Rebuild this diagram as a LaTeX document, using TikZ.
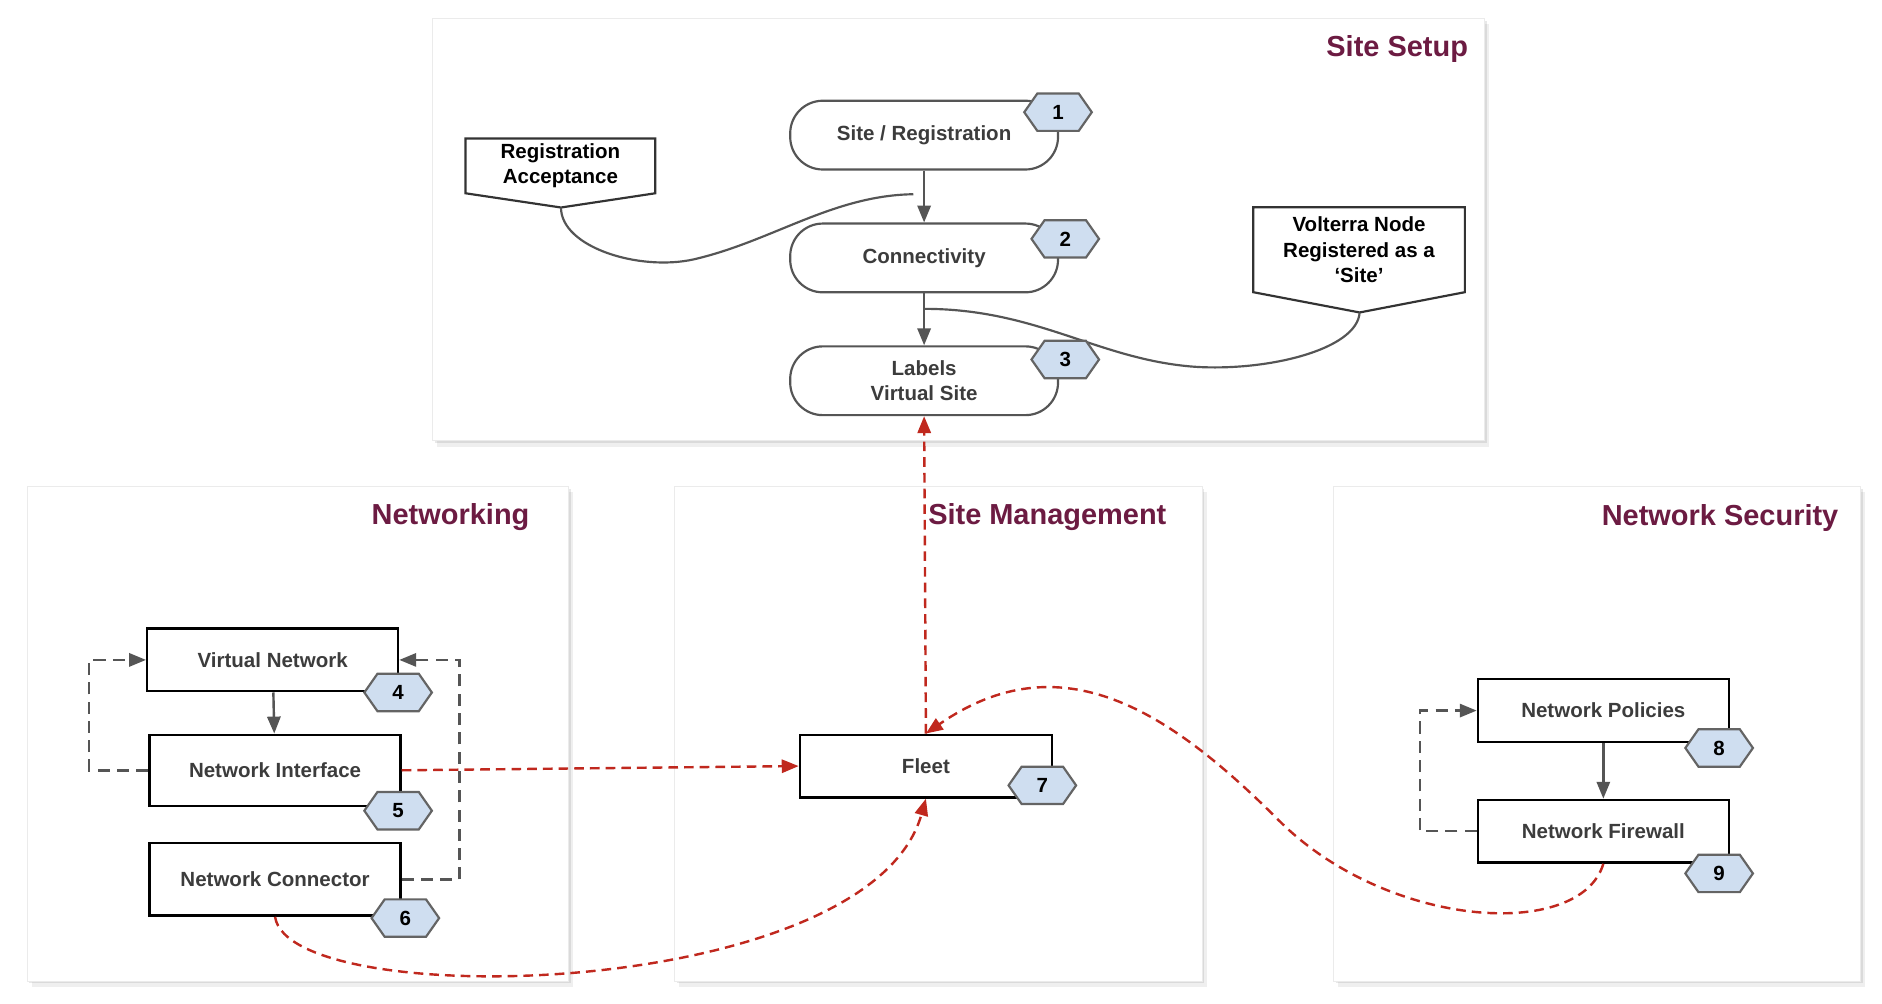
\documentclass[tikz,border=0pt]{standalone}
\usepackage{fontspec}
\setmainfont{Liberation Sans}
\usetikzlibrary{arrows.meta, positioning, shapes.symbols, shadows}

\definecolor{titlered}{RGB}{108,27,66}
\definecolor{nodegray}{RGB}{60,60,60}
\definecolor{badgeblue}{RGB}{207,222,240}
\definecolor{badgeedge}{RGB}{100,100,100}
\definecolor{arrowgray}{RGB}{85,85,85}
\definecolor{linkred}{RGB}{192,40,30}
\newcommand\nodefont{\fontsize{17}{21}\selectfont\bfseries}

\begin{document}
\begin{tikzpicture}[x=1pt, y=-1pt,
            panel/.style={
                rectangle,
                draw=black!8,
                fill=white,
                anchor=north west,
                inner sep=0pt,
                drop shadow={shadow xshift=4pt, shadow yshift=-5pt, opacity=.12},
                drop shadow={shadow xshift=2pt, shadow yshift=-2pt, opacity=.18}
            },
            paneltitle/.style={
                anchor=east,
                inner sep=0pt,
                text=titlered,
                font=\fontsize{24}{28}\selectfont\bfseries
            },
            stage/.style={
                rectangle,
                draw=arrowgray,
                line width=1.8pt,
                rounded corners=27pt,
                fill=white,
                minimum width=222pt,
                minimum height=57pt,
                align=center,
                text=nodegray,
                font=\nodefont
            },
            item/.style={
                rectangle,
                draw=black,
                line width=2pt,
                fill=white,
                minimum width=208pt,
                minimum height=52pt,
                align=center,
                text=nodegray,
                font=\nodefont
            },
            badge/.style={
                signal,
                signal to=west and east,
                signal pointer angle=110,
                draw=badgeedge,
                line width=1.8pt,
                fill=badgeblue,
                minimum width=56pt,
                minimum height=31pt,
                inner sep=0pt,
                font=\nodefont
            },
            note/.style={
                align=center,
                inner sep=2pt,
                text=black,
                font=\nodefont
            },
            notebox/.style={
                draw=black!80,
                line width=1.8pt
            },
            flow/.style={
                -{Triangle[length=14pt, width=11pt]},
                draw=arrowgray,
                line width=2pt
            },
            feedback/.style={
                -{Triangle[length=14pt, width=11pt]},
                draw=arrowgray,
                line width=2pt,
                dash pattern=on 10pt off 6pt
            },
            link/.style={
                -{Triangle[length=14pt, width=11pt]},
                draw=linkred,
                line width=2pt,
                dash pattern=on 8pt off 5pt
            }
        ]

        \fill[white] (0,0) rectangle (1560,832);
        \useasboundingbox (0,0) rectangle (1560,832);

        % Panels
        \node (setup) [panel, minimum width=872pt, minimum height=350pt] at (358,15) {};
        \node (networking) [panel, minimum width=449pt, minimum height=410pt] at (22,403) {};
        \node (sitemgmt) [panel, minimum width=437pt, minimum height=410pt] at (559,403) {};
        \node (netsec) [panel, minimum width=437pt, minimum height=410pt] at (1105,403) {};

        \node (setuptitle) [paneltitle] at (1217,41) {Site Setup};
        \node (nettitle) [paneltitle] at (439,429) {Networking};
        \node (mgmttitle) [paneltitle] at (967,429) {Site Management};
        \node (sectitle) [paneltitle] at (1524,429) {Network Security};

        % Site Setup
        \node (sitereg) [stage] at (766,112) {Site / Registration};
        \node (conn) [stage, below=43pt of sitereg] {Connectivity};
        \node (labels) [stage, below=43pt of conn] {Labels\\Virtual Site};

        \draw[flow] (sitereg) -- (conn);
        \draw[flow] (conn) -- (labels);

        % Notes of Site Setup
        \node (regacc) [note, minimum width=157pt, minimum height=45pt] at (464.5,137.5) {Registration\\Acceptance};
        \coordinate (regtip) at (465,172);
        \coordinate (regend) at (757,161);
        \draw[notebox] (regacc.north west) -- (regacc.north east) -- (regacc.south east) -- (regtip) -- (regacc.south west) -- cycle;
        \draw[notebox, draw=arrowgray] (regtip) .. controls (465,205) and (530,225) .. (575,215) .. controls (640,200) and (690,162) .. (regend);

        \node (volnode) [note, minimum width=175pt, minimum height=70pt] at (1126.5,207) {Volterra Node\\Registered as a\\‘Site’};
        \coordinate (voltip) at (1127,259);
        \coordinate (volend) at (766,256);
        \draw[notebox] (volnode.north west) -- (volnode.north east) -- (volnode.south east) -- (voltip) -- (volnode.south west) -- cycle;
        \draw[notebox, draw=arrowgray] (voltip) .. controls (1125,290) and (1050,308) .. (990,304) .. controls (910,298) and (860,256) .. (volend);

        % Networking
        \node (vnet) [item] at (226,547) {Virtual Network};
        \node (nif) [item, minimum height=59pt] at (228,638.5) {Network Interface};
        \node (ncon) [item, minimum height=60pt] at (228,729) {Network Connector};

        \draw[flow] (vnet) -- (nif);
        \draw[feedback] (nif.west) -- ++(-49,0) |- (vnet.west);
        \draw[feedback] (ncon.east) -- ++(48,0) |- (vnet.east);

        % Site Management
        \node (fleet) [item, minimum width=209pt] at (767.5,635) {Fleet};

        % Network Security
        \node (npol) [item] at (1329,589) {Network Policies};
        \node (nfw) [item] at (1329,689) {Network Firewall};

        \draw[flow] (npol) -- (nfw);
        \draw[feedback] (nfw.west) -- ++(-47,0) |- (npol.west);

        % Badges
        \node (b1) [badge] at (877,93) {1};
        \node (b2) [badge] at (883,198) {2};
        \node (b3) [badge] at (883,298) {3};
        \node (b4) [badge] at (330,574) {4};
        \node (b5) [badge] at (330,672) {5};
        \node (b6) [badge] at (336,761) {6};
        \node (b7) [badge] at (864,651) {7};
        \node (b8) [badge] at (1425,620) {8};
        \node (b9) [badge] at (1425,724) {9};

        % Links to Fleet
        \draw[link] (fleet.north) -- (labels.south);
        \draw[link] (nif.east) -- (fleet.west);
        \draw[link] (ncon.south) .. controls (240,840) and (720,830) .. (fleet.south);
        \draw[link] (nfw.south) .. controls (1310,780) and (1150,770) .. (1060,680) .. controls (970,590) and (880,530) .. (fleet.north);

        \end{tikzpicture}
\end{document}
